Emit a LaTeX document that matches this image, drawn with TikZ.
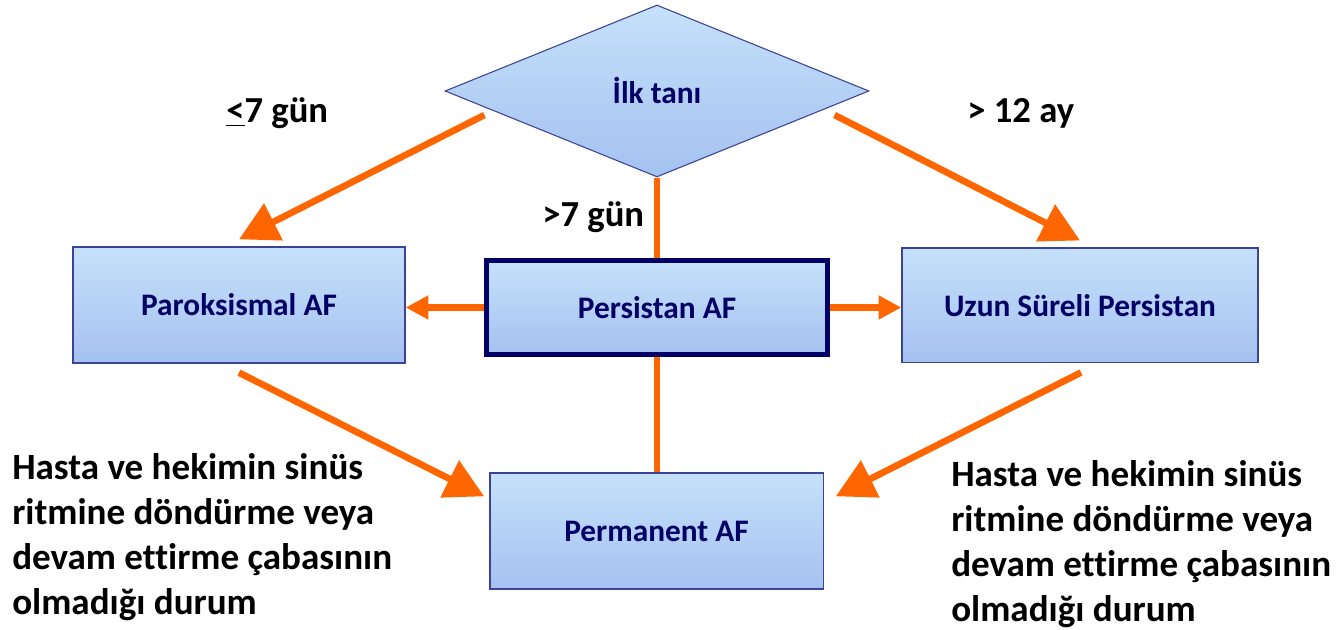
\documentclass[tikz,border=0pt]{standalone}
\usepackage{fontspec}
\setmainfont{Carlito}[Ligatures=NoCommon]
\usepackage{tikz}
\usetikzlibrary{shapes.geometric,arrows.meta,calc,backgrounds}
\definecolor{boxtop}{RGB}{197,225,250}
\definecolor{boxbot}{RGB}{165,193,240}
\definecolor{boxline}{RGB}{60,66,150}
\definecolor{navy}{RGB}{0,0,102}
\definecolor{turuncu}{RGB}{255,102,0}
\tikzset{
    state/.style ={rectangle, draw=boxline, line width=1pt, top color=boxtop, bottom color=boxbot,
        text=navy, inner sep=0pt, font=\fontsize{23.5}{28}\selectfont\bfseries},
    secili/.style ={state, draw=navy, line width=3.75pt},
    karar/.style ={state, diamond, line width=0.8pt, minimum width=318pt, minimum height=129pt},
    conn/.style = {draw=turuncu, line width=5pt, -{Triangle[length=29pt,width=30pt]}},
    kisa/.style = {draw=turuncu, line width=5pt, -{Triangle[length=17pt,width=17pt]}},
    hat/.style = {draw=turuncu, line width=4.5pt},
    el/.style = {inner sep=0pt, anchor=base west, font=\fontsize{27.5}{30}\selectfont\bfseries},
    aciklama/.style = {inner sep=0pt, anchor=north west, align=left, font=\fontsize{27.8}{33.75}\selectfont\bfseries}
}

\begin{document}
\begin{tikzpicture}[x=0.75pt,y=-0.75pt]
        \useasboundingbox (0,0) rectangle (1336,630);

        \node[karar] (ilk) at (657,91) {İlk tanı};
        \node[state, minimum width=249pt, minimum height=87pt] (parok) at (239,305) {Paroksismal AF};
        \node[secili, minimum width=256pt, minimum height=70.5pt] (pers) at (657,307.5) {Persistan AF};
        \node[state, minimum width=267pt, minimum height=86pt] (uzun) at (1080,305.5) {Uzun Süreli Persistan};
        \node[state, minimum width=250pt, minimum height=87pt] (perm) at (656.5,531) {Permanent AF};

        \node[el] (kisagun) at (226,123) {\underline{<}7 gün};
        \node[el] (uzungun) at (542,227) {>7 gün};
        \node[el] (ay) at (967,123) {> 12 ay};

        \node[aciklama] (solnot) at (12,453) {Hasta ve hekimin sinüs\\ritmine döndürme veya\\devam ettirme çabasının\\olmadığı durum};
        \node[aciklama] (sagnot) at (951,460) {Hasta ve hekimin sinüs\\ritmine döndürme veya\\devam ettirme çabasının\\olmadığı durum};

        \begin{pgfonlayer}{background}
        \path (ilk.south) edge[hat] (ilk.south |- perm.north);
        \end{pgfonlayer}

        \path ($(ilk.west)+(40,24)$) edge[conn] ($(parok.north)+(0,-7)$);
        \path ($(ilk.east)+(-35,24)$) edge[conn] ($(uzun.north)+(0,-7)$);
        \path (pers.west) edge[kisa] (pers.west -| parok.east);
        \path (pers.east) edge[kisa] (pers.east -| uzun.west);
        \path ($(parok.south)+(0,9)$) edge[conn] ($(perm.north west)+(-5,24)$);
        \path ($(uzun.south)+(1,9)$) edge[conn] ($(perm.north east)+(12,24)$);
    \end{tikzpicture}
\end{document}
